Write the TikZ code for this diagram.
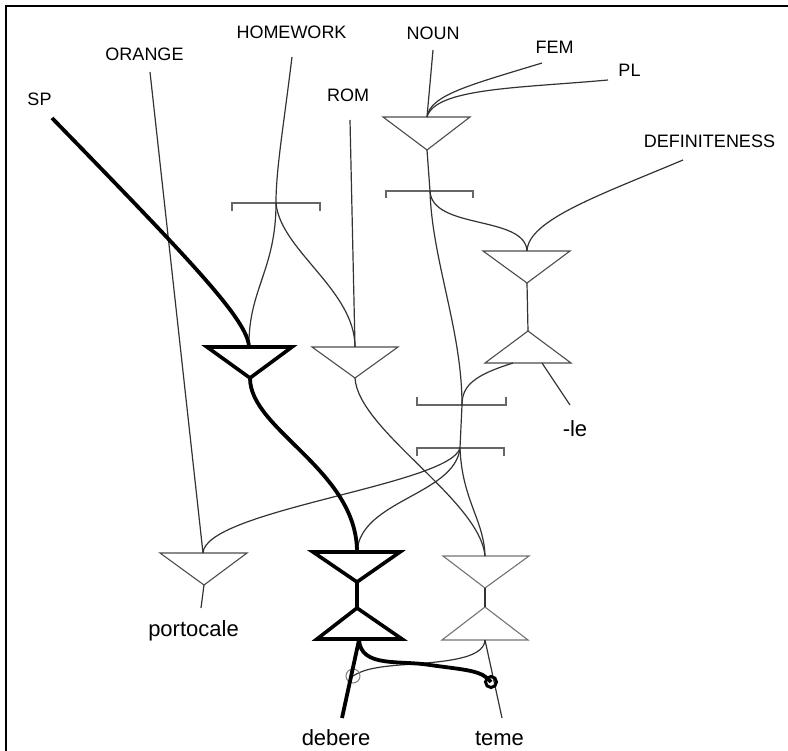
\documentclass[tikz,border=0pt]{standalone}
\usepackage{fontspec}
\setmainfont{Liberation Sans}
\begin{document}
\begin{tikzpicture}[x=1pt,y=-1pt,line join=miter,
  thin line/.style={line width=1.2pt,draw=black!80},
  thick line/.style={line width=3.8pt,draw=black},
  tri/.style={line width=1.1pt,draw=black!70},
  lighttri/.style={line width=1.1pt,draw=black!55},
  thicktri/.style={line width=3.6pt,draw=black},
  brk/.style={line width=1.7pt,draw=black!60},
  caps/.style={anchor=base,inner sep=0pt,font=\fontsize{18}{20}\selectfont},
  word/.style={anchor=base,inner sep=0pt,font=\fontsize{22}{24}\selectfont}]
\useasboundingbox (0,0) rectangle (788,751);
% frame (left and top)
\draw[line width=2.6pt] (6,751) -- (6,6) -- (788,6);

% labels
\node[caps] (sp) at (39.5,106) {SP};
\node[caps] (orange) at (144.5,61) {ORANGE};
\node[caps] (homework) at (291.5,39) {HOMEWORK};
\node[caps] (rom) at (348,102) {ROM};
\node[caps] (noun) at (433,40) {NOUN};
\node[caps] (fem) at (554.5,54) {FEM};
\node[caps] (pl) at (629.5,77) {PL};
\node[caps] (def) at (709.5,148) {DEFINITENESS};
\node[word] (le) at (575,437) {-le};
\node[word] (portocale) at (193.5,636) {portocale};
\node[word] (debere) at (336,745) {debere};
\node[word] (teme) at (499.5,745) {teme};

% label line ends
\coordinate (spE) at (52,118);
\coordinate (orE) at (150,72);
\coordinate (hwE) at (292,57);
\coordinate (romE) at (350,120);
\coordinate (nounE) at (433,50);
\coordinate (femE) at (542,63);
\coordinate (plE) at (608,80);
\coordinate (defE) at (683,160);
\coordinate (leE) at (570,405);
\coordinate (portE) at (201,608);
\coordinate (debE) at (342,718);
\coordinate (temeE) at (502,718);

% triangle key points
\coordinate (t1) at (249,347); \coordinate (t1a) at (250,378);
\coordinate (t2) at (355,347); \coordinate (t2a) at (355,378);
\coordinate (t3) at (427,117); \coordinate (t3a) at (427,150);
\coordinate (t4) at (527,251); \coordinate (t4a) at (527,283);
\coordinate (t5a) at (528,331); \coordinate (t5l) at (513,363); \coordinate (t5r) at (542,363);
\coordinate (t6) at (203,553); \coordinate (t6a) at (204,585);
\coordinate (t7) at (357,552); \coordinate (t7a) at (357,582);
\coordinate (t8a) at (357,608); \coordinate (t8) at (359,640);
\coordinate (t9) at (485,556); \coordinate (t9a) at (485,588);
\coordinate (t10a) at (485,607); \coordinate (t10) at (485,640);

% bracket centres
\coordinate (b1) at (276,203);
\coordinate (b2) at (430,191);
\coordinate (b3) at (462,405);
\coordinate (b4) at (460,448);

% circles
\coordinate (cthin) at (353,676);
\coordinate (cthick) at (491,682);

% triangles
\draw[thicktri] (207,347) -- (292,347) -- (t1a) -- cycle;
\draw[tri] (312,347) -- (398,347) -- (t2a) -- cycle;
\draw[tri] (383,117) -- (470,117) -- (t3a) -- cycle;
\draw[tri] (483,251) -- (570,251) -- (t4a) -- cycle;
\draw[tri] (485,363) -- (571,363) -- (t5a) -- cycle;
\draw[tri] (160,553) -- (247,553) -- (t6a) -- cycle;
\draw[thicktri] (313,552) -- (400,552) -- (t7a) -- cycle;
\draw[thicktri] (317,639) -- (402,639) -- (t8a) -- cycle;
\draw[lighttri] (443,556) -- (529,556) -- (t9a) -- cycle;
\draw[lighttri] (442,640) -- (528,640) -- (t10a) -- cycle;

% brackets
\draw[brk] (232,211) -- (232,203) -- (320,203) -- (320,211);
\draw[brk] (386,198) -- (386,191) -- (473,191) -- (473,198);
\draw[brk] (417,397) -- (417,405) -- (506,405) -- (506,397);
\draw[brk] (417,456) -- (417,448) -- (504,448) -- (504,456);

% thin connectors
\draw[thin line] (orE) -- (t6);
\draw[thin line] (hwE) .. controls (283,130) and (276,170) .. (b1);
\draw[thin line] (b1) .. controls (276,270) and (248,290) .. (t1);
\draw[thin line] (b1) .. controls (280,250) and (355,290) .. (t2);
\draw[thin line] (romE) -- (t2);
\draw[thin line] (nounE) -- (t3);
\draw[thin line] (femE) .. controls (470,85) and (430,95) .. (t3);
\draw[thin line] (plE) .. controls (520,88) and (435,88) .. (t3);
\draw[thin line] (t3a) -- (b2);
\draw[thin line] (b2) .. controls (432,230) and (525,215) .. (t4);
\draw[thin line] (defE) .. controls (600,195) and (528,220) .. (t4);
\draw[thin line] (t4a) -- (t5a);
\draw[thin line] (b2) .. controls (432,260) and (462,330) .. (b3);
\draw[thin line] (t5l) .. controls (475,375) and (462,385) .. (b3);
\draw[thin line] (t5r) -- (leE);
\draw[thin line] (b3) -- (b4);
\draw[thin line] (b4) .. controls (450,485) and (205,510) .. (t6);
\draw[thin line] (b4) .. controls (455,495) and (360,500) .. (t7);
\draw[thin line] (b4) .. controls (462,500) and (484,520) .. (t9);
\draw[thin line] (t2a) .. controls (358,430) and (480,500) .. (t9);
\draw[thin line] (t6a) -- (portE);
\draw[thin line] (t9a) -- (t10a);
\draw[thin line] (t10) -- (temeE);
\draw[thin line] (t10) .. controls (484,660) and (440,662) .. (400,665)
  .. controls (375,667) and (362,670) .. (cthin);
\draw[line width=1pt,draw=black!50] (cthin) circle[radius=7];

% thick connectors
\draw[thick line] (spE) .. controls (190,260) and (248,320) .. (t1);
\draw[thick line] (t1a) .. controls (250,430) and (357,470) .. (t7);
\draw[thick line] (t7a) -- (t8a);
\draw[thick line] (t8) -- (debE);
\draw[thick line] (t8) .. controls (361,668) and (400,660) .. (430,665)
  .. controls (465,670) and (482,670) .. (cthick);
\draw[line width=3pt] (cthick) circle[radius=5.5];
\end{tikzpicture}
\end{document}
